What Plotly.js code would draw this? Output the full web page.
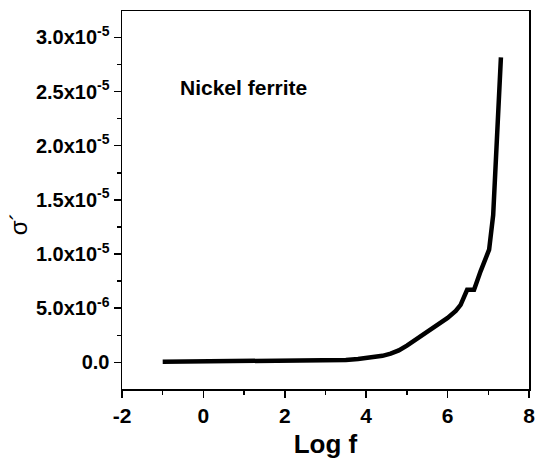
<!DOCTYPE html>
<html>
<head>
<meta charset="utf-8">
<script src="https://cdn.plot.ly/plotly-3.0.1.min.js"></script>
<style>
  html, body { margin: 0; padding: 0; background: #fff; }
  #chart { width: 536px; height: 463px; }
</style>
</head>
<body>
<div id="chart"></div>
<script>
// Real part of conductivity versus log frequency for nickel ferrite
const logF = [-1, 0, 1, 2, 3, 3.5, 3.8, 4.0, 4.2, 4.4, 4.6, 4.8, 5.0, 5.2, 5.4, 5.7, 6.0, 6.2, 6.32, 6.48, 6.65, 6.81, 7.02, 7.12, 7.31];
const sigmaReal = [0.05e-6, 0.07e-6, 0.09e-6, 0.12e-6, 0.16e-6, 0.22e-6, 0.3e-6, 0.37e-6, 0.47e-6, 0.6e-6,
                   0.8e-6, 1.1e-6, 1.55e-6, 2.05e-6, 2.5e-6, 3.3e-6, 4.1e-6, 4.75e-6, 5.3e-6, 6.7e-6,
                   6.7e-6, 8.4e-6, 10.4e-6, 13.6e-6, 28.15e-6];

const xTickVals = [-2, 0, 2, 4, 6, 8];
const xTickText = ['-2', '0', '2', '4', '6', '8'];
const xMinorVals = [-1, 1, 3, 5, 7];
const yTickVals = [0, 5e-6, 1e-5, 1.5e-5, 2e-5, 2.5e-5, 3e-5];
const yTickText = ['0.0', '5.0x10<sup>-6</sup>', '1.0x10<sup>-5</sup>', '1.5x10<sup>-5</sup>',
                   '2.0x10<sup>-5</sup>', '2.5x10<sup>-5</sup>', '3.0x10<sup>-5</sup>'];
const yMinorVals = [-2.5e-6, 2.5e-6, 7.5e-6, 1.25e-5, 1.75e-5, 2.25e-5, 2.75e-5, 3.25e-5];

const font = 'Liberation Sans';
const bold = s => '<b>' + s + '</b>';

const trace = {
  x: logF,
  y: sigmaReal,
  type: 'scatter',
  mode: 'lines',
  line: { color: '#000', width: 4.5 },
  hoverinfo: 'skip'
};

const layout = {
  width: 536,
  height: 463,
  margin: { l: 122, r: 7, t: 11, b: 74 },
  paper_bgcolor: '#fff',
  plot_bgcolor: '#fff',
  showlegend: false,
  font: { family: font, color: '#000' },
  xaxis: {
    range: [-2, 8],
    tickmode: 'array', tickvals: xTickVals, ticktext: xTickText.map(bold),
    ticks: 'outside', ticklen: 7, tickwidth: 1.5, tickcolor: '#000',
    minor: { ticks: 'outside', ticklen: 4, tickwidth: 1.5, tickcolor: '#000', tickmode: 'array', tickvals: xMinorVals, showgrid: false },
    showline: true, linecolor: '#000', linewidth: 1.5, mirror: true,
    showgrid: false, zeroline: false,
    tickfont: { family: font, size: 21, color: '#000' },
    title: { text: bold('Log f'), font: { family: font, size: 26, color: '#000' }, standoff: 9 }
  },
  yaxis: {
    range: [-2.46e-6, 3.243e-5],
    tickmode: 'array', tickvals: yTickVals, ticktext: yTickText.map(bold),
    ticks: 'outside', ticklen: 7, tickwidth: 1.5, tickcolor: '#000',
    minor: { ticks: 'outside', ticklen: 4, tickwidth: 1.5, tickcolor: '#000', tickmode: 'array', tickvals: yMinorVals, showgrid: false },
    showline: true, linecolor: '#000', linewidth: 1.5, mirror: true,
    showgrid: false, zeroline: false,
    tickfont: { family: font, size: 20, color: '#000' }
  },
  annotations: [
    {
      text: bold('Nickel ferrite'),
      xref: 'paper', yref: 'paper',
      x: 0.137, y: 0.797,
      xanchor: 'left', yanchor: 'middle',
      showarrow: false,
      font: { family: font, size: 21, color: '#000' }
    },
    {
      text: 'σ´',
      xref: 'paper', yref: 'paper',
      x: -0.255, y: 0.4365,
      xanchor: 'center', yanchor: 'middle',
      textangle: -90,
      showarrow: false,
      font: { family: font, size: 24, color: '#000' }
    }
  ]
};

Plotly.newPlot('chart', [trace], layout, { staticPlot: true, displayModeBar: false });
</script>
</body>
</html>
